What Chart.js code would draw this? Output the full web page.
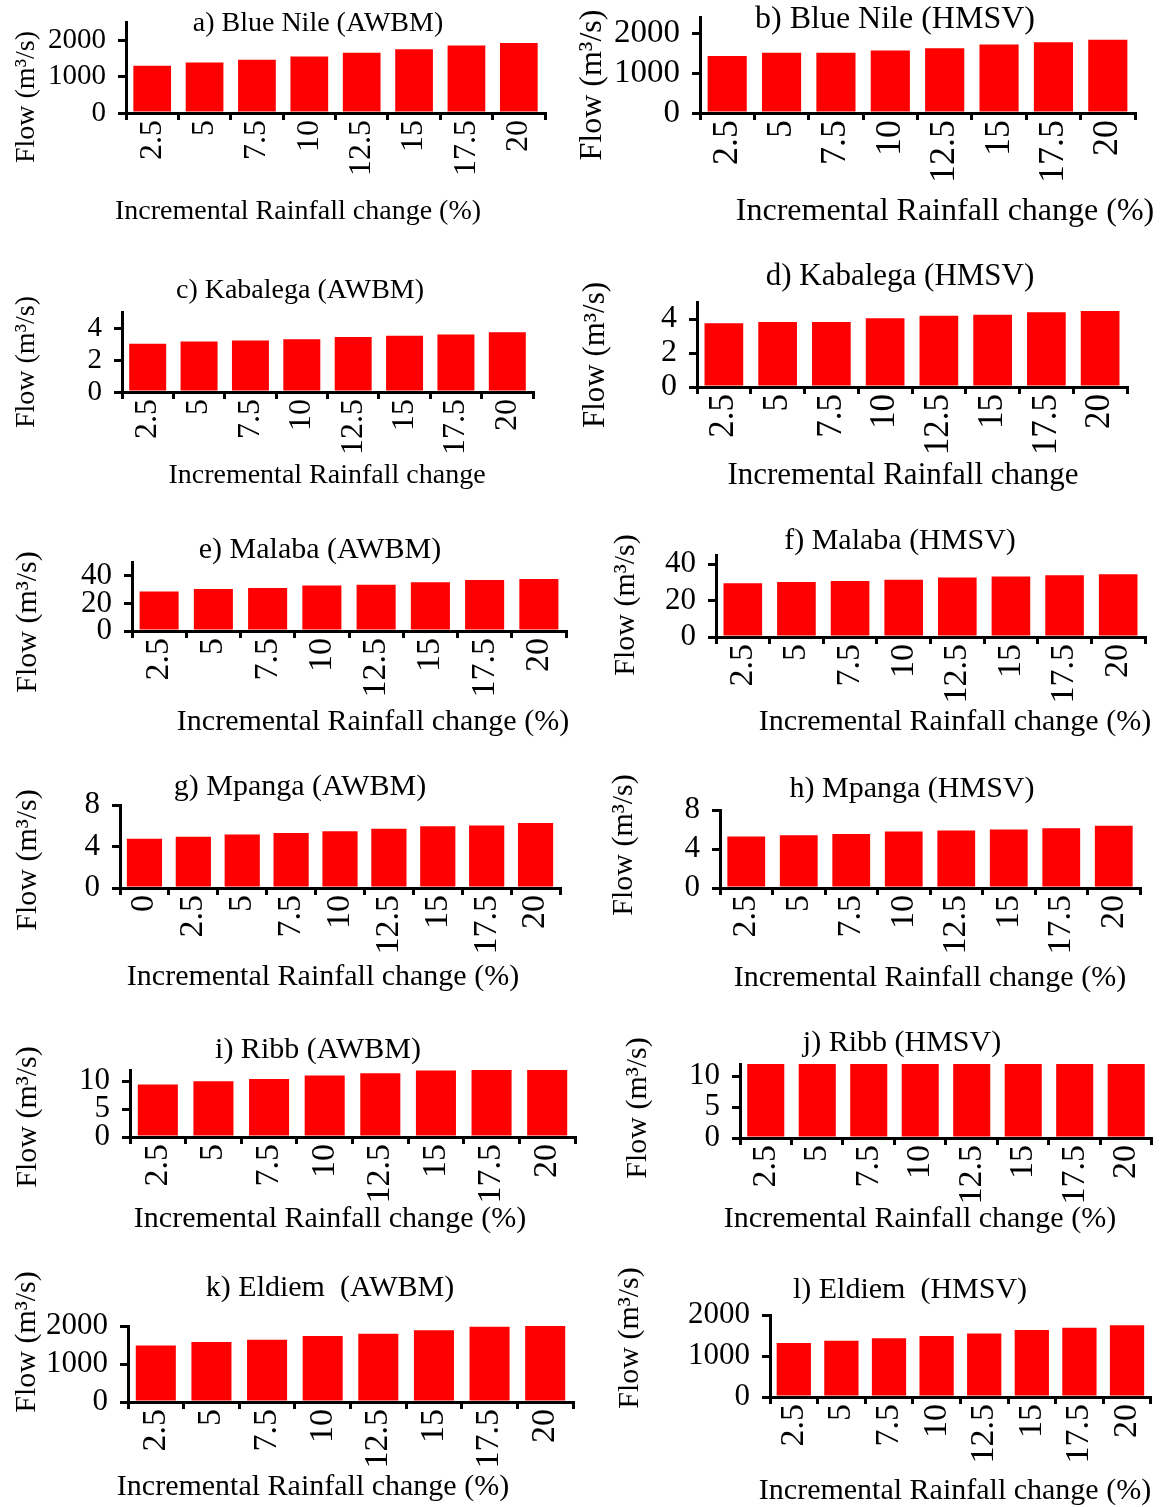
<!DOCTYPE html>
<html>
<head>
<meta charset="utf-8">
<script src="https://cdn.jsdelivr.net/npm/chart.js@4.4.1/dist/chart.umd.min.js"></script>
<style>
  body { margin: 0; background: #fff; width: 1168px; height: 1507px; position: relative; overflow: hidden; }
  canvas { position: absolute; }
</style>
</head>
<body>
<script>
// rainfall change categories (%)
const rainSteps = ["2.5", "5", "7.5", "10", "12.5", "15", "17.5", "20"];
const rainStepsMpanga = ["0", "2.5", "5", "7.5", "10", "12.5", "15", "17.5", "20"];

// flows (m3/s)
const blueNileAWBM = [1295, 1390, 1460, 1550, 1655, 1750, 1855, 1925];
const blueNileHMSV = [1425, 1505, 1505, 1565, 1620, 1710, 1770, 1830];
const kabalegaAWBM = [3.02, 3.16, 3.22, 3.30, 3.43, 3.51, 3.59, 3.73];
const kabalegaHMSV = [3.75, 3.83, 3.83, 4.04, 4.19, 4.25, 4.40, 4.47];
const malabaAWBM = [28.7, 30.4, 31.1, 32.9, 33.6, 35.3, 36.9, 37.6];
const malabaHMSV = [29.5, 30.2, 30.7, 31.4, 32.7, 33.2, 33.9, 34.5];
const mpangaAWBM = [4.74, 4.94, 5.16, 5.29, 5.48, 5.71, 5.94, 6.03, 6.26];
const mpangaHMSV = [5.28, 5.41, 5.55, 5.79, 5.90, 6.00, 6.14, 6.38];
const ribbAWBM = [9.4, 10.0, 10.4, 11.0, 11.4, 11.9, 12.3, 12.3];
const ribbHMSV = [12.5, 12.5, 12.5, 12.5, 12.5, 12.5, 12.5, 12.5]; // cut off at the axis top
const eldiemAWBM = [1485, 1580, 1635, 1735, 1795, 1885, 1980, 2030];
const eldiemHMSV = [1315, 1375, 1435, 1490, 1550, 1635, 1690, 1750];

// y axis ranges and tick labels
const yMax = [2500, 2400, 5, 5, 50, 45, 8, 8, 12, 12, 2000, 2000];
const yTicks = [
  [0, 1000, 2000], [0, 1000, 2000],
  [0, 2, 4], [0, 2, 4],
  [0, 20, 40], [0, 20, 40],
  [0, 4, 8], [0, 4, 8],
  [0, 5, 10], [0, 5, 10],
  [0, 1000, 2000], [0, 1000, 2000]
];

const titles = [
  "a) Blue Nile (AWBM)", "b) Blue Nile (HMSV)",
  "c) Kabalega (AWBM)", "d) Kabalega (HMSV)",
  "e) Malaba (AWBM)", "f) Malaba (HMSV)",
  "g) Mpanga (AWBM)", "h) Mpanga (HMSV)",
  "i) Ribb (AWBM)", "j) Ribb (HMSV)",
  "k) Eldiem  (AWBM)", "l) Eldiem  (HMSV)"
];
const xTitleFull = "Incremental Rainfall change (%)";
const xTitleShort = "Incremental Rainfall change";
const yTitle = "Flow (m\u00b3/s)";

const panelData = [
  [rainSteps, blueNileAWBM], [rainSteps, blueNileHMSV],
  [rainSteps, kabalegaAWBM], [rainSteps, kabalegaHMSV],
  [rainSteps, malabaAWBM], [rainSteps, malabaHMSV],
  [rainStepsMpanga, mpangaAWBM], [rainSteps, mpangaHMSV],
  [rainSteps, ribbAWBM], [rainSteps, ribbHMSV],
  [rainSteps, eldiemAWBM], [rainSteps, eldiemHMSV]
];

// page layout: ax = plot area [left, top, right, bottom], t/xt/yt = text centres, fs = text size
const layout = [
  { ax: [126, 22, 545, 113],    t: [318, 24],   xt: [298, 212],  yt: [27, 97],    fs: 28 },
  { ax: [700, 17, 1135, 113],   t: [895, 20],   xt: [945, 212],  yt: [593, 85],   fs: 32 },
  { ax: [122, 312, 533, 392],   t: [300, 291],  xt: [327, 476],  yt: [27, 362],   fs: 28 },
  { ax: [697, 302, 1127, 387],  t: [900, 277],  xt: [903, 476],  yt: [596, 355],  fs: 31 },
  { ax: [132, 562, 566, 631],   t: [320, 550],  xt: [373, 722],  yt: [28, 622],   fs: 30 },
  { ax: [716, 555, 1145, 637],  t: [900, 541],  xt: [955, 722],  yt: [626, 605],  fs: 30 },
  { ax: [120, 805, 560, 888],   t: [300, 787],  xt: [323, 977],  yt: [28, 860],   fs: 30 },
  { ax: [720, 810, 1140, 888],  t: [912, 789],  xt: [930, 978],  yt: [624, 845],  fs: 30 },
  { ax: [130, 1070, 575, 1137], t: [318, 1050], xt: [330, 1219], yt: [28, 1117],  fs: 30 },
  { ax: [740, 1064, 1152, 1138],t: [902, 1043], xt: [920, 1219], yt: [638, 1108], fs: 30 },
  { ax: [128, 1326, 573, 1402], t: [330, 1288], xt: [313, 1487], yt: [27, 1342],  fs: 30 },
  { ax: [770, 1315, 1165, 1397],t: [910, 1290], xt: [955, 1491], yt: [630, 1338], fs: 30 }
];

const serif = "'Liberation Serif', 'Times New Roman', serif";

// panel title, x title and rotated y title
const captions = {
  id: 'captions',
  afterDraw(chart, args, opts) {
    const ctx = chart.ctx;
    ctx.save();
    ctx.fillStyle = '#000';
    ctx.font = opts.size + 'px ' + serif;
    ctx.textAlign = 'center';
    ctx.textBaseline = 'middle';
    ctx.fillText(opts.title, opts.t[0], opts.t[1]);
    ctx.fillText(opts.xTitle, opts.xt[0], opts.xt[1]);
    ctx.translate(opts.yt[0], opts.yt[1]);
    ctx.rotate(-Math.PI / 2);
    ctx.fillText(opts.yTitle, 0, 0);
    ctx.restore();
  }
};

layout.forEach((p, i) => {
  const col = i % 2;
  const boxL = col ? 578 : 0;
  const boxW = 590;
  const boxT = Math.min(p.ax[1], p.t[1], p.yt[1] - 80) - 25;
  const boxH = p.xt[1] + 25 - boxT;
  const [labels, values] = panelData[i];

  const canvas = document.createElement('canvas');
  canvas.width = boxW;
  canvas.height = boxH;
  canvas.style.left = boxL + 'px';
  canvas.style.top = boxT + 'px';
  canvas.style.width = boxW + 'px';
  canvas.style.height = boxH + 'px';
  document.body.appendChild(canvas);

  const rel = pt => [pt[0] - boxL, pt[1] - boxT];

  new Chart(canvas, {
    type: 'bar',
    data: {
      labels: labels,
      datasets: [{
        data: values,
        backgroundColor: '#ff0000',
        borderWidth: 0,
        barPercentage: 0.72,
        categoryPercentage: 1,
        clip: 0
      }]
    },
    options: {
      responsive: false,
      animation: false,
      devicePixelRatio: 1,
      layout: { padding: { left: 0, top: p.ax[1] - boxT, right: boxL + boxW - p.ax[2], bottom: 0 } },
      plugins: {
        legend: { display: false },
        tooltip: { enabled: false },
        title: { display: false },
        captions: {
          title: titles[i],
          xTitle: (i === 2 || i === 3) ? xTitleShort : xTitleFull,
          yTitle: yTitle,
          size: p.fs,
          t: rel(p.t), xt: rel(p.xt), yt: rel(p.yt)
        }
      },
      scales: {
        x: {
          offset: true,
          grid: { offset: true, drawOnChartArea: false, color: '#000', lineWidth: 3, tickLength: 7 },
          border: { color: '#000', width: 3 },
          ticks: { color: '#000', font: { family: serif, size: p.fs + 4 }, minRotation: 90, maxRotation: 90, autoSkip: false, padding: 0 },
          afterFit(s) { s.height = boxT + boxH - p.ax[3]; }
        },
        y: {
          min: 0,
          max: yMax[i],
          grid: { drawOnChartArea: false, color: '#000', lineWidth: 3, tickLength: 8 },
          border: { color: '#000', width: 3 },
          ticks: { color: '#000', font: { family: serif, size: p.fs + 1 }, padding: 12, autoSkip: false, callback: v => String(v) },
          afterBuildTicks(s) { s.ticks = yTicks[i].map(v => ({ value: v })); },
          afterFit(s) { s.width = p.ax[0] - boxL; }
        }
      }
    },
    plugins: [captions]
  });
});
</script>
</body>
</html>
